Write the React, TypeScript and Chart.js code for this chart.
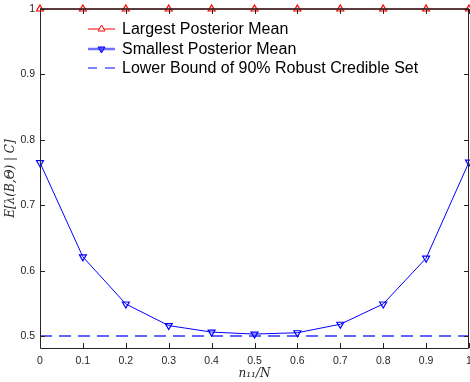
import React, { useEffect, useRef } from "react";
import { Chart, registerables } from "chart.js";

Chart.register(...registerables);

const xValues = [0, 0.1, 0.2, 0.3, 0.4, 0.5, 0.6, 0.7, 0.8, 0.9, 1];
const largestMean = [1, 1, 1, 1, 1, 1, 1, 1, 1, 1, 1];
const smallestMean = [0.765, 0.621, 0.549, 0.516, 0.506, 0.503, 0.505, 0.518, 0.549, 0.619, 0.766];
const lowerBoundX = [0, 1];
const lowerBoundY = [0.5, 0.5];
const xTicks = [0, 0.1, 0.2, 0.3, 0.4, 0.5, 0.6, 0.7, 0.8, 0.9, 1];
const yTicks = [0.5, 0.6, 0.7, 0.8, 0.9, 1];
const legendLabels = [
  "Largest Posterior Mean",
  "Smallest Posterior Mean",
  "Lower Bound of 90% Robust Credible Set",
];

const AXIS_COLOR = "#262626";
const TICK_FONT = { family: "'Liberation Sans', Arial, sans-serif", size: 10.5 };
const fmt = (v: number) => String(Math.round(v * 10) / 10);

function drawTriangle(ctx: CanvasRenderingContext2D, x: number, y: number, r: number, down: boolean) {
  const s = down ? -1 : 1;
  ctx.beginPath();
  ctx.moveTo(x, y - s * r);
  ctx.lineTo(x + r * Math.sin(Math.PI / 3), y + s * r * 0.5);
  ctx.lineTo(x - r * Math.sin(Math.PI / 3), y + s * r * 0.5);
  ctx.closePath();
}

const boxPlugin = {
  id: "boxTicks",
  afterDatasetsDraw(chart: any) {
    const { ctx, chartArea } = chart;
    const { left, right, top, bottom } = chartArea;
    const xs = chart.scales.x;
    const ys = chart.scales.y;
    ctx.save();
    ctx.strokeStyle = AXIS_COLOR;
    ctx.lineWidth = 1;
    ctx.beginPath();
    ctx.moveTo(left + 0.5, top);
    ctx.lineTo(left + 0.5, bottom + 0.5);
    ctx.lineTo(right - 0.5, bottom + 0.5);
    ctx.lineTo(right - 0.5, top);
    ctx.stroke();
    ctx.lineWidth = 1.5;
    ctx.beginPath();
    ctx.moveTo(left, top);
    ctx.lineTo(right, top);
    ctx.stroke();
    ctx.lineWidth = 1;
    const tl = 5;
    ctx.beginPath();
    for (const v of xTicks) {
      const px = Math.round(xs.getPixelForValue(v)) + 0.5;
      ctx.moveTo(px, bottom);
      ctx.lineTo(px, bottom - tl);
      ctx.moveTo(px, top);
      ctx.lineTo(px, top + tl);
    }
    for (const v of yTicks) {
      const py = Math.round(ys.getPixelForValue(v)) + 0.5;
      ctx.moveTo(left, py);
      ctx.lineTo(left + tl, py);
      ctx.moveTo(right, py);
      ctx.lineTo(right - tl, py);
    }
    ctx.stroke();
    ctx.restore();
  },
};

const legendPlugin = {
  id: "insideLegend",
  afterDraw(chart: any) {
    const { ctx } = chart;
    const x0 = 88;
    const x1 = 115;
    const xm = (x0 + x1) / 2;
    const rows = [29, 49, 68];
    ctx.save();
    ctx.strokeStyle = "#ff0000";
    ctx.lineWidth = 1;
    ctx.beginPath();
    ctx.moveTo(x0, rows[0]);
    ctx.lineTo(x1, rows[0]);
    ctx.stroke();
    ctx.fillStyle = "#ffffff";
    drawTriangle(ctx, xm, rows[0], 4, false);
    ctx.fill();
    ctx.stroke();
    ctx.strokeStyle = "#7070ff";
    ctx.lineWidth = 2.5;
    ctx.beginPath();
    ctx.moveTo(x0, rows[1]);
    ctx.lineTo(x1, rows[1]);
    ctx.stroke();
    ctx.strokeStyle = "#0000ff";
    ctx.lineWidth = 1;
    ctx.fillStyle = "#5050ff";
    drawTriangle(ctx, xm, rows[1], 4, true);
    ctx.fill();
    ctx.stroke();
    ctx.strokeStyle = "#0000ff";
    ctx.lineWidth = 1;
    ctx.beginPath();
    ctx.moveTo(x0, rows[2]);
    ctx.lineTo(x0 + 9, rows[2]);
    ctx.moveTo(x0 + 17, rows[2]);
    ctx.lineTo(x1, rows[2]);
    ctx.stroke();
    ctx.fillStyle = "#000000";
    ctx.font = "16px 'Liberation Sans', Arial, sans-serif";
    ctx.textBaseline = "middle";
    ctx.textAlign = "left";
    legendLabels.forEach((t, i) => ctx.fillText(t, 122, rows[i] + 1));
    ctx.restore();
  },
};

export default function App() {
  const ref = useRef<HTMLCanvasElement | null>(null);
  useEffect(() => {
    document.body.style.margin = "0";
    if (!ref.current) return;
    const chart = new Chart(ref.current, {
      type: "line",
      data: {
        datasets: [
          {
            label: legendLabels[0],
            data: xValues.map((x, i) => ({ x, y: largestMean[i] })),
            borderColor: "#ff0000",
            backgroundColor: "rgba(255,255,255,0)",
            borderWidth: 1,
            pointStyle: "triangle",
            pointRadius: 4,
            pointBorderColor: "#ff0000",
            pointBackgroundColor: "rgba(255,255,255,0)",
            pointBorderWidth: 1.2,
            clip: false,
          },
          {
            label: legendLabels[1],
            data: xValues.map((x, i) => ({ x, y: smallestMean[i] })),
            borderColor: "#0000ff",
            backgroundColor: "rgba(255,255,255,0)",
            borderWidth: 1,
            pointStyle: "triangle",
            pointRotation: 180,
            pointRadius: 4,
            pointBorderColor: "#0000ff",
            pointBackgroundColor: "rgba(255,255,255,0)",
            pointBorderWidth: 1.2,
            clip: false,
          },
          {
            label: legendLabels[2],
            data: lowerBoundX.map((x, i) => ({ x, y: lowerBoundY[i] })),
            borderColor: "#6262ff",
            borderWidth: 2,
            borderDash: [12, 7],
            pointRadius: 0,
          },
        ],
      },
      options: {
        animation: false,
        responsive: false,
        layout: { autoPadding: false, padding: { top: 9, right: 1, left: 0, bottom: 0 } },
        plugins: { legend: { display: false }, tooltip: { enabled: false } },
        scales: {
          x: {
            type: "linear",
            min: 0,
            max: 1,
            grid: { display: false, drawTicks: false },
            border: { display: false },
            afterBuildTicks: (s: any) => {
              s.ticks = xTicks.map((v) => ({ value: v }));
            },
            afterFit: (s: any) => {
              s.height = 34;
              s.paddingLeft = 0;
              s.paddingRight = 0;
            },
            ticks: {
              autoSkip: false,
              maxRotation: 0,
              padding: 7,
              color: AXIS_COLOR,
              font: TICK_FONT,
              callback: (v: any) => fmt(Number(v)),
            },
            title: {
              display: true,
              text: "n₁₁/N",
              color: AXIS_COLOR,
              font: { family: "'DejaVu Serif', 'Liberation Serif', serif", size: 12, style: "italic" },
              padding: { top: 0, bottom: 1 },
            },
          },
          y: {
            type: "linear",
            min: 0.4817,
            max: 1,
            grid: { display: false, drawTicks: false },
            border: { display: false },
            afterBuildTicks: (s: any) => {
              s.ticks = yTicks.map((v) => ({ value: v }));
            },
            afterFit: (s: any) => {
              s.width = 40;
              s.paddingTop = 0;
              s.paddingBottom = 0;
            },
            ticks: {
              padding: 5,
              color: AXIS_COLOR,
              font: TICK_FONT,
              callback: (v: any) => fmt(Number(v)),
            },
            title: {
              display: true,
              text: "E[λ(B,Θ) | C]",
              color: AXIS_COLOR,
              font: { family: "'DejaVu Serif', 'Liberation Serif', serif", size: 12, style: "italic" },
              padding: { top: 4, bottom: 0 },
            },
          },
        },
      },
      plugins: [boxPlugin, legendPlugin],
    } as any);
    return () => chart.destroy();
  }, []);
  return (
    <div style={{ width: 470, height: 382 }}>
      <canvas ref={ref} width={470} height={382} style={{ display: "block" }} />
    </div>
  );
}
